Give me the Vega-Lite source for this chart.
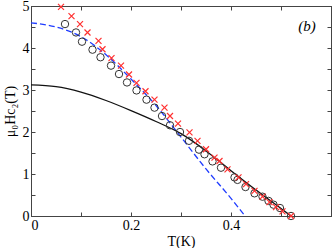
{
  "$schema": "https://vega.github.io/schema/vega-lite/v6.json",
  "width": 300,
  "height": 210,
  "autosize": {"type": "none"},
  "padding": {"left": 31, "top": 6, "right": 1, "bottom": 32},
  "background": "white",
  "config": {
    "view": {"stroke": "#333", "strokeWidth": 1},
    "axis": {
      "labelFont": "Liberation Serif",
      "labelFontSize": 14,
      "labelColor": "black",
      "titleFont": "Liberation Serif",
      "titleFontSize": 14,
      "titleFontWeight": "normal",
      "titleColor": "black",
      "domainColor": "#444",
      "tickColor": "#444",
      "tickSize": -4,
      "grid": false
    }
  },
  "datasets": {
    "circles": [
      {"T": 0.068, "H": 4.57}, {"T": 0.090, "H": 4.37}, {"T": 0.102, "H": 4.15},
      {"T": 0.123, "H": 3.96}, {"T": 0.139, "H": 3.78}, {"T": 0.160, "H": 3.58},
      {"T": 0.176, "H": 3.38}, {"T": 0.192, "H": 3.18}, {"T": 0.211, "H": 2.99},
      {"T": 0.231, "H": 2.77}, {"T": 0.247, "H": 2.58}, {"T": 0.262, "H": 2.38},
      {"T": 0.278, "H": 2.16}, {"T": 0.298, "H": 2.0}, {"T": 0.316, "H": 1.79},
      {"T": 0.336, "H": 1.58}, {"T": 0.347, "H": 1.47}, {"T": 0.363, "H": 1.30},
      {"T": 0.380, "H": 1.15}, {"T": 0.407, "H": 0.92}, {"T": 0.413, "H": 0.86},
      {"T": 0.429, "H": 0.69}, {"T": 0.447, "H": 0.54}, {"T": 0.463, "H": 0.46},
      {"T": 0.475, "H": 0.36}, {"T": 0.485, "H": 0.27}, {"T": 0.498, "H": 0.19},
      {"T": 0.520, "H": 0.0}
    ],
    "crosses": [
      {"T": 0.060, "H": 4.98}, {"T": 0.081, "H": 4.76}, {"T": 0.098, "H": 4.57},
      {"T": 0.113, "H": 4.37}, {"T": 0.135, "H": 4.17}, {"T": 0.143, "H": 3.97},
      {"T": 0.161, "H": 3.76}, {"T": 0.180, "H": 3.58}, {"T": 0.196, "H": 3.37},
      {"T": 0.211, "H": 3.17}, {"T": 0.229, "H": 2.97}, {"T": 0.247, "H": 2.77},
      {"T": 0.267, "H": 2.58}, {"T": 0.278, "H": 2.38}, {"T": 0.294, "H": 2.20},
      {"T": 0.317, "H": 1.99}, {"T": 0.333, "H": 1.79}, {"T": 0.350, "H": 1.59},
      {"T": 0.367, "H": 1.39}, {"T": 0.377, "H": 1.31}, {"T": 0.393, "H": 1.11},
      {"T": 0.415, "H": 0.92}, {"T": 0.430, "H": 0.76}, {"T": 0.447, "H": 0.60},
      {"T": 0.463, "H": 0.46}, {"T": 0.477, "H": 0.33}, {"T": 0.490, "H": 0.21},
      {"T": 0.503, "H": 0.11}, {"T": 0.520, "H": 0.0}
    ],
    "black": [
      {"T": 0.0, "H": 3.12}, {"T": 0.05, "H": 3.08}, {"T": 0.1, "H": 2.95},
      {"T": 0.15, "H": 2.75}, {"T": 0.2, "H": 2.51}, {"T": 0.25, "H": 2.25},
      {"T": 0.3, "H": 1.96}, {"T": 0.35, "H": 1.55}, {"T": 0.4, "H": 1.08},
      {"T": 0.45, "H": 0.62}, {"T": 0.5, "H": 0.18}, {"T": 0.52, "H": 0.0}
    ],
    "blue": [
      {"T": 0.0, "H": 4.6}, {"T": 0.05, "H": 4.5}, {"T": 0.1, "H": 4.27},
      {"T": 0.15, "H": 3.84}, {"T": 0.2, "H": 3.26}, {"T": 0.25, "H": 2.63},
      {"T": 0.3, "H": 1.88}, {"T": 0.35, "H": 1.12}, {"T": 0.4, "H": 0.42},
      {"T": 0.428, "H": 0.0}
    ],
    "label": [{"T": 0.552, "H": 4.53, "text": "(b)"}]
  },
  "resolve": {"axis": {"x": "independent", "y": "independent"}},
  "layer": [
    {
      "data": {"name": "blue"},
      "mark": {"type": "line", "color": "#1f3cff", "strokeWidth": 1.3, "strokeDash": [6, 3], "interpolate": "monotone"},
      "encoding": {
        "x": {"field": "T", "type": "quantitative", "scale": {"domain": [0, 0.6], "nice": false},
          "axis": {"orient": "bottom", "title": "T(K)", "values": [0, 0.1, 0.2, 0.3, 0.4, 0.5, 0.6], "format": "~g",
            "labelExpr": "(datum.value < 0.01 || abs(datum.value - 0.2) < 0.01 || abs(datum.value - 0.4) < 0.01) ? datum.label : ''",
            "labelPadding": 6, "titlePadding": 2}},
        "y": {"field": "H", "type": "quantitative", "scale": {"domain": [0, 5], "nice": false},
          "axis": {"orient": "left", "title": "μ₀Hc₂(T)", "values": [0, 0.5, 1, 1.5, 2, 2.5, 3, 3.5, 4, 4.5, 5], "format": "~g",
            "labelExpr": "datum.value % 1 == 0 ? datum.label : ''", "labelPadding": 6, "titlePadding": 5}}
      }
    },
    {
      "data": {"name": "black"},
      "mark": {"type": "line", "color": "#111", "strokeWidth": 1.3, "interpolate": "monotone"},
      "encoding": {
        "x": {"field": "T", "type": "quantitative",
          "axis": {"orient": "top", "title": null, "labels": false, "values": [0, 0.1, 0.2, 0.3, 0.4, 0.5, 0.6]}},
        "y": {"field": "H", "type": "quantitative",
          "axis": {"orient": "right", "title": null, "labels": false, "values": [0, 0.5, 1, 1.5, 2, 2.5, 3, 3.5, 4, 4.5, 5]}}
      }
    },
    {
      "data": {"name": "circles"},
      "mark": {"type": "point", "shape": "circle", "filled": false, "stroke": "#333", "strokeWidth": 1, "size": 55, "opacity": 1},
      "encoding": {
        "x": {"field": "T", "type": "quantitative", "axis": null},
        "y": {"field": "H", "type": "quantitative", "axis": null}
      }
    },
    {
      "data": {"name": "crosses"},
      "mark": {"type": "point", "shape": "M-1,-1L1,1M-1,1L1,-1", "filled": false, "stroke": "#ff3030", "strokeWidth": 1.2, "size": 36, "opacity": 1},
      "encoding": {
        "x": {"field": "T", "type": "quantitative", "axis": null},
        "y": {"field": "H", "type": "quantitative", "axis": null}
      }
    },
    {
      "data": {"name": "label"},
      "mark": {"type": "text", "font": "Liberation Serif", "fontSize": 15, "fontStyle": "italic", "color": "black", "align": "center", "baseline": "middle"},
      "encoding": {
        "x": {"field": "T", "type": "quantitative", "axis": null},
        "y": {"field": "H", "type": "quantitative", "axis": null},
        "text": {"field": "text"}
      }
    }
  ]
}
